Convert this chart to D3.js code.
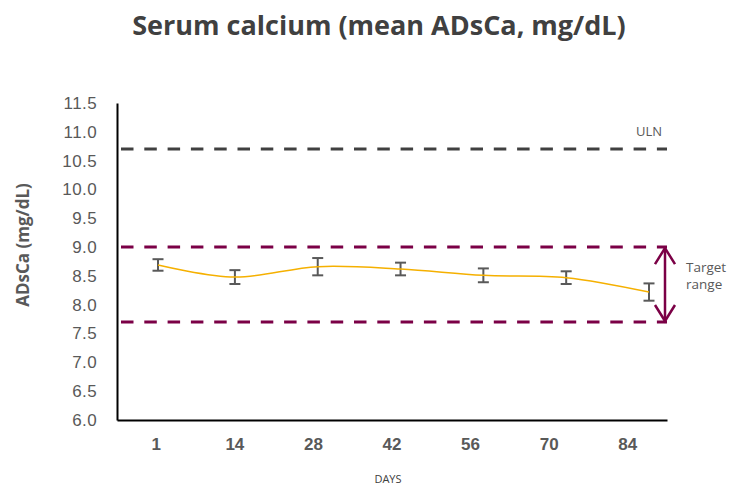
<!DOCTYPE html>
<html>
<head>
<meta charset="utf-8">
<script src="https://cdn.jsdelivr.net/npm/d3@7"></script>
<style>
  body { margin: 0; background: #fff; }
  svg { font-family: "Open Sans", sans-serif; }
</style>
</head>
<body>
<div class="center"></div>
<script>
// chart data
const days = [1, 14, 28, 42, 56, 70, 84];
const meanCa = [8.69, 8.48, 8.66, 8.62, 8.51, 8.47, 8.22];
const errCa = [0.10, 0.12, 0.15, 0.11, 0.12, 0.11, 0.15];
const yTicks = [6.0, 6.5, 7.0, 7.5, 8.0, 8.5, 9.0, 9.5, 10.0, 10.5, 11.0, 11.5];
const uln = 10.7;
const targetRange = [7.7, 9.0];

const W = 731, H = 486;
const margin = {top: 103, right: 64, bottom: 66, left: 117};
const width = W - margin.left - margin.right;
const height = H - margin.top - margin.bottom;

const svg = d3.select(".center").append("svg")
  .attr("width", W)
  .attr("height", H);

const g = svg.append("g").attr("transform", `translate(${margin.left},${margin.top})`);

// scales
const yScale = d3.scaleLinear().domain([6, 11.5]).range([height, 0]);
const xBand = d3.scaleBand().domain(days).range([0, width]);   // tick labels
const xScale = d3.scaleLinear().domain([1, 84]).range([41, 532]); // points

const grey = "#595959";
const purple = "#7B0046";

// title
svg.append("text")
  .text("Serum calcium (mean ADsCa, mg/dL)")
  .attr("x", 379)
  .attr("y", 35)
  .attr("text-anchor", "middle")
  .style("font-size", "27px")
  .style("font-weight", "700")
  .style("fill", "#404040");

// y axis
const yAxis = d3.axisLeft(yScale).tickValues(yTicks).tickFormat(d3.format(".1f")).tickSize(0).tickPadding(20);
const yg = g.append("g").call(yAxis);
yg.select(".domain").attr("stroke", "#000").attr("stroke-width", 2);
yg.selectAll("text").style("font-size", "17px").style("letter-spacing", "0.4px").style("fill", grey);

// x axis
const xAxis = d3.axisBottom(xBand).tickSize(0).tickPadding(18);
const xg = g.append("g").attr("transform", `translate(0,${height})`).call(xAxis);
xg.select(".domain").attr("stroke", "#000").attr("stroke-width", 2);
xg.selectAll("text").style("font-size", "17px").style("font-weight", "700").style("fill", grey);

// axis titles
svg.append("text")
  .text("ADsCa (mg/dL)")
  .attr("transform", "rotate(-90)")
  .attr("x", -245)
  .attr("y", 29)
  .attr("text-anchor", "middle")
  .style("font-size", "17px")
  .style("font-weight", "700")
  .style("fill", grey);

svg.append("text")
  .text("DAYS")
  .attr("x", 388)
  .attr("y", 483)
  .attr("text-anchor", "middle")
  .style("font-size", "11px")
  .style("fill", "#404040");

// reference lines
const refLines = [{v: uln, c: "#404040"}, {v: targetRange[1], c: purple}, {v: targetRange[0], c: purple}];
g.selectAll(".ref")
  .data(refLines)
  .enter().append("line")
  .attr("x1", 4)
  .attr("x2", width)
  .attr("y1", d => yScale(d.v))
  .attr("y2", d => yScale(d.v))
  .attr("stroke", d => d.c)
  .attr("stroke-width", 3)
  .attr("stroke-dasharray", "12.5,10.8");

g.append("text")
  .text("ULN")
  .attr("x", 519)
  .attr("y", yScale(uln) - 13)
  .style("font-size", "13px")
  .style("fill", grey);

// target range arrow
const ax = width - 2;
const y1 = yScale(targetRange[1]), y0 = yScale(targetRange[0]);
g.append("line")
  .attr("x1", ax).attr("x2", ax)
  .attr("y1", y1 + 1).attr("y2", y0 - 1)
  .attr("stroke", purple).attr("stroke-width", 2.5);
g.append("path")
  .attr("d", `M${ax - 10},${y1 + 17}L${ax},${y1 + 1}L${ax + 10},${y1 + 17}`)
  .attr("fill", "none").attr("stroke", purple).attr("stroke-width", 2.5);
g.append("path")
  .attr("d", `M${ax - 10},${y0 - 17}L${ax},${y0 - 1}L${ax + 10},${y0 - 17}`)
  .attr("fill", "none").attr("stroke", purple).attr("stroke-width", 2.5);

const tr = g.append("text")
  .attr("x", width + 19)
  .attr("y", yScale(8.57))
  .style("font-size", "13.5px")
  .style("fill", grey);
tr.append("tspan").text("Target");
tr.append("tspan").attr("x", width + 19).attr("dy", 17).text("range");

// data
const data = days.map((d, i) => ({day: d, mean: meanCa[i], err: errCa[i]}));

const line = d3.line()
  .x(d => xScale(d.day))
  .y(d => yScale(d.mean))
  .curve(d3.curveCatmullRom.alpha(0));

// error bars
const eb = g.selectAll(".err")
  .data(data)
  .enter().append("g")
  .attr("class", "err")
  .attr("stroke", grey)
  .attr("stroke-width", 2);
eb.append("line")
  .attr("x1", d => xScale(d.day)).attr("x2", d => xScale(d.day))
  .attr("y1", d => yScale(d.mean + d.err)).attr("y2", d => yScale(d.mean - d.err));
eb.append("line")
  .attr("x1", d => xScale(d.day) - 5.5).attr("x2", d => xScale(d.day) + 5.5)
  .attr("y1", d => yScale(d.mean + d.err)).attr("y2", d => yScale(d.mean + d.err));
eb.append("line")
  .attr("x1", d => xScale(d.day) - 5.5).attr("x2", d => xScale(d.day) + 5.5)
  .attr("y1", d => yScale(d.mean - d.err)).attr("y2", d => yScale(d.mean - d.err));

g.append("path")
  .datum(data)
  .attr("d", line)
  .attr("fill", "none")
  .attr("stroke", "#F5B000")
  .attr("stroke-width", 1.5);
</script>
</body>
</html>
